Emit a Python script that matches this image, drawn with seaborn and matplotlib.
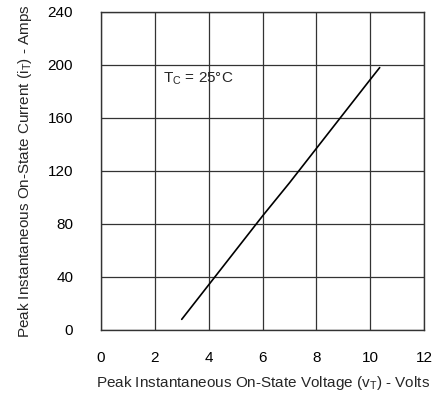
import numpy as np
import matplotlib.pyplot as plt
import seaborn as sns
import pandas as pd

# dane
v_t = [3.0, 4.0, 5.0, 6.0, 7.0, 8.0, 9.0, 10.0, 10.35]
i_t = [8, 34, 60, 86, 111, 137, 163, 189, 198]
x_ticks = [0, 2, 4, 6, 8, 10, 12]
y_ticks = [0, 40, 80, 120, 160, 200, 240]

df = pd.DataFrame({'v': v_t, 'i': i_t})

sns.set_style('white')
plt.rcParams['font.family'] = ['Liberation Sans', 'DejaVu Sans']

fig = plt.figure(figsize=(4.35, 3.98), dpi=100)
ax = fig.add_axes([0.232, 0.171, 0.743, 0.799])

sns.lineplot(x='v', y='i', data=df, color='black', linewidth=1.2, ax=ax)

ax.set_xlim(0, 12)
ax.set_ylim(0, 240)
ax.set_xticks(x_ticks)
ax.set_yticks(y_ticks)
ax.grid(True, color='#333333', linewidth=0.9)
for s in ax.spines.values():
    s.set_color('#333333')
    s.set_linewidth(1.0)
ax.tick_params(axis='both', length=0, labelsize=11, colors='black')
ax.tick_params(axis='x', pad=15)
ax.tick_params(axis='y', pad=20)

ax.set_xlabel('Peak Instantaneous On-State Voltage (v$_\\mathregular{T}$) - Volts',
              fontsize=11, labelpad=7)
ax.set_ylabel('Peak Instantaneous On-State Current (i$_\\mathregular{T}$) - Amps',
              fontsize=11, labelpad=10)
ax.text(2.3, 190, 'T$_\\mathregular{C}$ = 25°C', fontsize=11, va='center')

plt.savefig('out.png', dpi=100)
plt.close()
